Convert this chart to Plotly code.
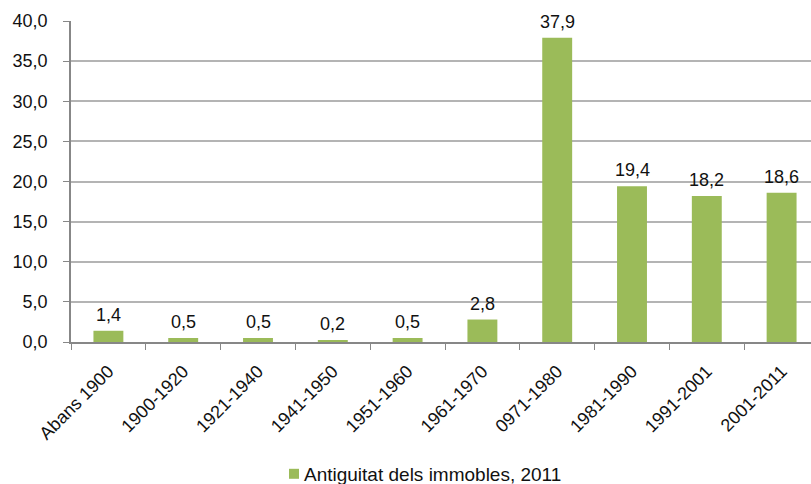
import plotly.graph_objects as go

# Building age distribution (% of buildings), 2011
categories = ["Abans 1900", "1900-1920", "1921-1940", "1941-1950", "1951-1960",
              "1961-1970", "0971-1980", "1981-1990", "1991-2001", "2001-2011"]
values = [1.4, 0.5, 0.5, 0.2, 0.5, 2.8, 37.9, 19.4, 18.2, 18.6]
series_name = "Antiguitat dels immobles, 2011"
y_ticks = [0, 5, 10, 15, 20, 25, 30, 35, 40]

bar_color = "#9BBB59"
grid_color = "#B4B4B4"
axis_color = "#878787"
text_color = "#111111"
font_family = "Liberation Sans, Arial, sans-serif"

W, H = 811, 484
M_L, M_R, M_T, M_B = 71, 0, 20.5, 142
plot_w = W - M_L - M_R
plot_h = H - M_T - M_B


def px_to_paper(px, py):
    """Convert pixel position on the page to paper coordinates."""
    return (px - M_L) / plot_w, (H - M_B - py) / plot_h


fig = go.Figure()
fig.add_trace(go.Bar(
    x=categories,
    y=values,
    name=series_name,
    marker=dict(color=bar_color, line=dict(width=0)),
    showlegend=False,
))

# value labels above each bar
for cat, val in zip(categories, values):
    fig.add_annotation(
        x=cat, y=val,
        text=f"{val:.1f}".replace(".", ","),
        showarrow=False,
        yanchor="bottom",
        yshift=4,
        font=dict(size=18, color=text_color, family=font_family),
    )

# legend: colour swatch + series name below the axis labels
x0, y0 = px_to_paper(289, 479)
x1, y1 = px_to_paper(299, 469)
fig.add_shape(type="rect", xref="paper", yref="paper",
              x0=x0, x1=x1, y0=y0, y1=y1,
              fillcolor=bar_color, line=dict(width=0))
tx, ty = px_to_paper(302, 474.5)
fig.add_annotation(
    xref="paper", yref="paper", x=tx, y=ty,
    xanchor="left", yanchor="middle",
    text=series_name, showarrow=False,
    font=dict(size=19, color=text_color, family=font_family),
)

fig.update_layout(
    width=W,
    height=H,
    margin=dict(l=M_L, r=M_R, t=M_T, b=M_B, autoexpand=False),
    paper_bgcolor="white",
    plot_bgcolor="white",
    separators=",.",
    bargap=0.6,
    font=dict(family=font_family, size=18, color=text_color),
    showlegend=False,
)

fig.update_xaxes(
    type="category",
    range=[-0.5, 9.393],
    tickangle=-45,
    showline=True,
    linecolor=axis_color,
    linewidth=1.5,
    ticks="outside",
    ticklen=6,
    tickcolor=axis_color,
    tickson="boundaries",
    showgrid=False,
    ticklabelstandoff=10,
    tickfont=dict(size=18),
)

fig.update_yaxes(
    range=[0, 40],
    tickvals=y_ticks,
    tickformat=".1f",
    showline=True,
    linecolor=axis_color,
    linewidth=1.5,
    ticks="outside",
    ticklen=6,
    tickcolor=axis_color,
    showgrid=True,
    gridcolor=grid_color,
    gridwidth=1.5,
    zeroline=False,
    ticklabelstandoff=12,
    tickfont=dict(size=18),
)

fig.write_html("out.html")
